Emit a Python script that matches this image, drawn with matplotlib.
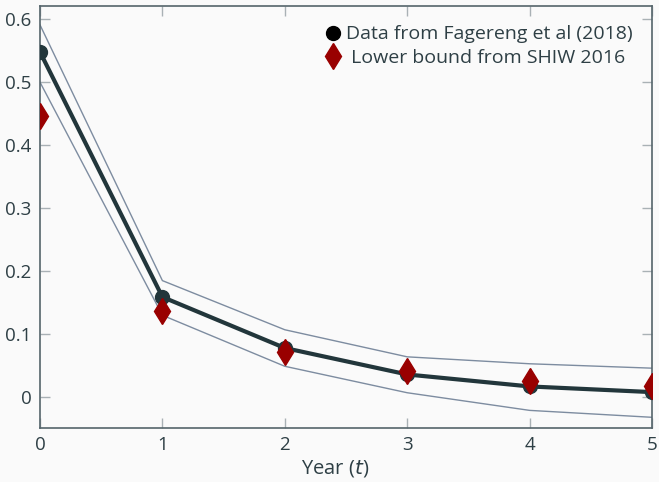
from matplotlib import pyplot as plt
import numpy as np

# values
years = [0, 1, 2, 3, 4, 5]
fagereng = [0.547, 0.158, 0.077, 0.035, 0.016, 0.007]
upper = [0.590, 0.184, 0.106, 0.063, 0.052, 0.045]
lower = [0.499, 0.129, 0.048, 0.006, -0.022, -0.033]
shiw = [0.445, 0.135, 0.071, 0.041, 0.024, 0.016]

y_ticks = [0, 0.1, 0.2, 0.3, 0.4, 0.5, 0.6]
y_labels = ["0", "0.1", "0.2", "0.3", "0.4", "0.5", "0.6"]

text_col = "#2e3f45"
plt.rcParams['font.family'] = ['Open Sans', 'DejaVu Sans']

fig = plt.figure(figsize=(6.59, 4.82), dpi=100, facecolor="#fafafa")
ax = fig.add_axes([0.0607, 0.112, 0.9287, 0.8756])
ax.set_facecolor("#fafafa")

ax.plot(years, upper, color="#7d8ca0", lw=1.0, zorder=2)
ax.plot(years, lower, color="#7d8ca0", lw=1.0, zorder=2)
ax.plot(years, fagereng, color="#22363b", lw=3, marker="o", ms=10, zorder=3)
ax.plot(years, shiw, ls="none", marker="d", color="#990000", ms=13, zorder=4)

# legend handles (markers only)
h1, = ax.plot([], [], ls="none", marker="o", ms=10, color="black")
h2, = ax.plot([], [], ls="none", marker="d", ms=13, color="#990000")
leg = ax.legend([h1, h2], ["Data from Fagereng et al (2018)", " Lower bound from SHIW 2016"],
                loc="upper right", frameon=False, fontsize=14, handletextpad=0.15,
                borderaxespad=0.6, labelspacing=0.3, handlelength=1.0)
for t in leg.get_texts():
    t.set_color(text_col)

ax.set_xlim(0, 5)
ax.set_ylim(-0.05, 0.62)
ax.set_yticks(y_ticks)
ax.set_yticklabels(y_labels)
ax.set_xticks(years)

ax.tick_params(direction="in", length=7, width=1, color="#a9b1b5",
               labelcolor=text_col, labelsize=13.5, top=True, right=True, pad=6)
for s in ax.spines.values():
    s.set_color("#55656b")
    s.set_linewidth(1.2)

ax.set_xlabel("Year ($t$)", fontsize=14.5, color=text_col, labelpad=3)
ax.xaxis.set_label_coords(0.482, -0.07)

fig.savefig("out.png", dpi=100, facecolor=fig.get_facecolor())
